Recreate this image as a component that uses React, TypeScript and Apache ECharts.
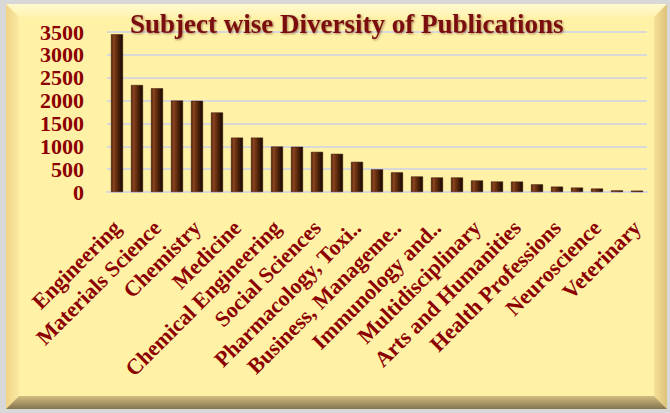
import React, { useEffect, useRef } from "react";
import * as echarts from "echarts";

const titleText = "Subject wise Diversity of Publications";

const categories = [
  "Engineering",
  "Physics and Astronomy",
  "Materials Science",
  "Computer Science",
  "Chemistry",
  "Biochemistry, Genetics..",
  "Medicine",
  "Environmental Science",
  "Chemical Engineering",
  "Energy",
  "Social Sciences",
  "Agricultural and Biolo..",
  "Pharmacology, Toxi..",
  "Mathematics",
  "Business, Manageme..",
  "Earth and Planetary..",
  "Immunology and..",
  "Economics, Econome..",
  "Multidisciplinary",
  "Decision Sciences",
  "Arts and Humanities",
  "Nursing",
  "Health Professions",
  "Psychology",
  "Neuroscience",
  "Dentistry",
  "Veterinary",
];

const publications = [
  3450, 2340, 2270, 2000, 1995, 1740, 1190, 1190, 995, 990, 878, 835, 660,
  495, 430, 340, 318, 318, 252, 230, 228, 168, 118, 97, 76, 36, 30,
];

const yTicks = [0, 500, 1000, 1500, 2000, 2500, 3000, 3500];

export default function App() {
  const ref = useRef<HTMLDivElement>(null);

  useEffect(() => {
    if (!ref.current) return;
    const chart = echarts.init(ref.current, null, { renderer: "svg" });
    const W = 670;
    const H = 413;
    const b = 6; // outer border
    const bv = 13; // bevel
    const red = "#8b0000";
    chart.setOption({
      animation: false,
      backgroundColor: "#d8d8d8",
      graphic: [
        {
          type: "rect",
          z: -10,
          silent: true,
          shape: { x: b, y: 4, width: W - b - 3, height: H - 4 - 4 },
          style: { fill: "#fff1a6" },
        },
        {
          type: "polygon",
          z: -9,
          silent: true,
          shape: {
            points: [
              [b, 4],
              [W - 3, 4],
              [W - 3 - bv, 4 + bv],
              [b + bv, 4 + bv],
            ],
          },
          style: {
            fill: new echarts.graphic.LinearGradient(0, 0, 0, 1, [
              { offset: 0, color: "#fff9cf" },
              { offset: 1, color: "#fff3b0" },
            ]),
          },
        },
        {
          type: "polygon",
          z: -9,
          silent: true,
          shape: {
            points: [
              [b, 4],
              [b + bv, 4 + bv],
              [b + bv, H - 4 - bv],
              [b, H - 4],
            ],
          },
          style: {
            fill: new echarts.graphic.LinearGradient(0, 0, 1, 0, [
              { offset: 0, color: "#f0d488" },
              { offset: 1, color: "#fbe9a2" },
            ]),
          },
        },
        {
          type: "polygon",
          z: -9,
          silent: true,
          shape: {
            points: [
              [W - 3, 4],
              [W - 3 - bv, 4 + bv],
              [W - 3 - bv, H - 4 - bv],
              [W - 3, H - 4],
            ],
          },
          style: {
            fill: new echarts.graphic.LinearGradient(0, 0, 1, 0, [
              { offset: 0, color: "#f6e199" },
              { offset: 1, color: "#dcc27a" },
            ]),
          },
        },
        {
          type: "polygon",
          z: -8,
          silent: true,
          shape: {
            points: [
              [b, H - 4],
              [b + bv, H - 4 - bv],
              [W - 3 - bv, H - 4 - bv],
              [W - 3, H - 4],
            ],
          },
          style: {
            fill: new echarts.graphic.LinearGradient(0, 0, 0, 1, [
              { offset: 0, color: "#d2bd80" },
              { offset: 1, color: "#85754e" },
            ]),
          },
        },
      ],
      title: {
        text: titleText,
        left: 125,
        top: 5,
        textStyle: {
          fontFamily: "Liberation Serif",
          fontWeight: "bold",
          fontSize: 27,
          color: "#7a0c0c",
          textShadowColor: "rgba(60,0,0,0.45)",
          textShadowBlur: 2,
          textShadowOffsetX: 1,
          textShadowOffsetY: 1,
        },
      },
      grid: { left: 107, right: 23, top: 32, bottom: 221, containLabel: false },
      xAxis: {
        type: "category",
        data: categories,
        axisLine: { show: true, lineStyle: { color: "#d9d9d9", width: 2 } },
        axisTick: { show: false },
        axisLabel: {
          interval: 1,
          rotate: 45,
          margin: 32,
          fontFamily: "Liberation Serif",
          fontWeight: "bold",
          fontSize: 22,
          color: red,
        },
      },
      yAxis: {
        type: "value",
        min: 0,
        max: 3500,
        interval: 500,
        axisLine: { show: false },
        axisTick: { show: false },
        splitLine: { lineStyle: { color: "#d9d9d9", width: 2 } },
        axisLabel: {
          margin: 23,
          fontFamily: "Liberation Serif",
          fontWeight: "bold",
          fontSize: 22,
          color: red,
          formatter: (v: number) => (yTicks.includes(v) ? String(v) : ""),
        },
      },
      series: [
        {
          type: "bar",
          data: publications,
          barWidth: 12,
          itemStyle: {
            color: new echarts.graphic.LinearGradient(0, 0, 1, 0, [
              { offset: 0, color: "#4a1e08" },
              { offset: 0.2, color: "#8a4420" },
              { offset: 0.5, color: "#5e2a0e" },
              { offset: 1, color: "#140600" },
            ]),
            borderColor: "#3a1505",
            borderWidth: 0.5,
          },
        },
      ],
    });
    return () => chart.dispose();
  }, []);

  return (
    <div
      ref={ref}
      style={{ position: "fixed", left: 0, top: 0, width: 670, height: 413 }}
    />
  );
}
